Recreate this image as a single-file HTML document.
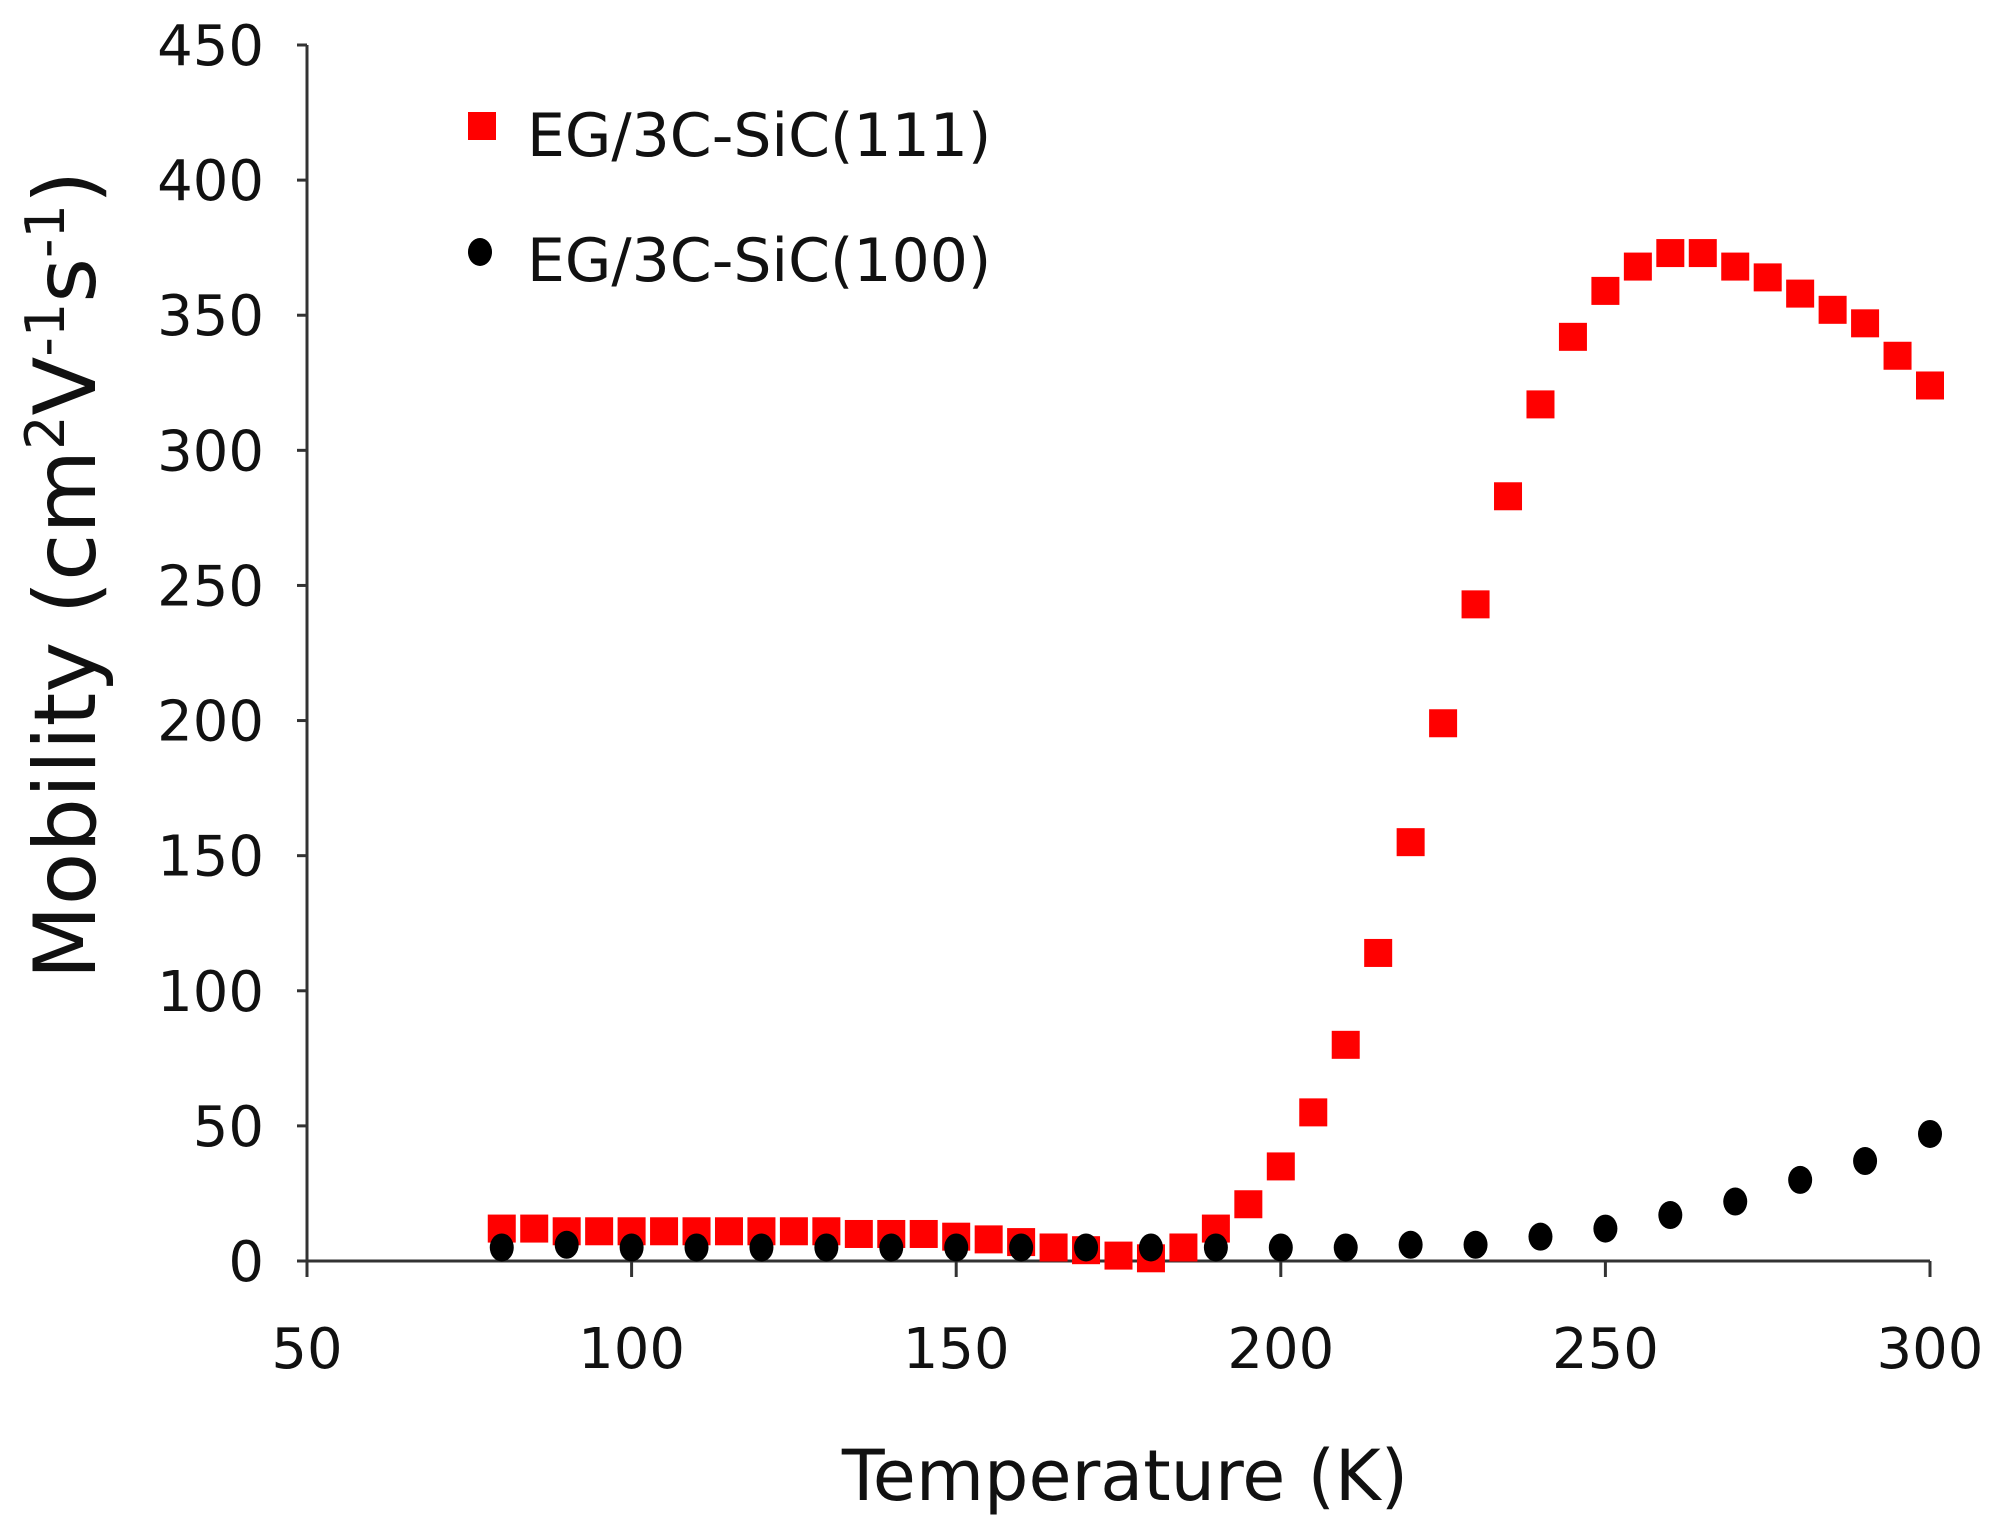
<!DOCTYPE html>
<html><head><meta charset="utf-8"><style>
html,body{margin:0;padding:0;background:#fff;}
svg{display:block;font-family:"DejaVu Sans","Liberation Sans",sans-serif;}
</style></head><body>
<svg id="chart" width="1994" height="1526" viewBox="0 0 1994 1526">
<g id="axes"></g>
<g id="marks"></g>
<text x="1125" y="1500" font-size="70" text-anchor="middle" fill="#111">Temperature (K)</text>
<text transform="translate(95,575) rotate(-90)" font-size="86" text-anchor="middle" fill="#111">Mobility (cm<tspan baseline-shift="super" font-size="54">2</tspan>V<tspan baseline-shift="super" font-size="54">-1</tspan>s<tspan baseline-shift="super" font-size="54">-1</tspan>)</text>
<g>
<rect x="468" y="112" width="28" height="28" fill="#ff0000"/>
<text x="527" y="156" font-size="60" fill="#111">EG/3C-SiC(111)</text>
<ellipse cx="480" cy="252" rx="12" ry="14" fill="#000"/>
<text x="527" y="281" font-size="60" fill="#111">EG/3C-SiC(100)</text>
</g>
</svg>
<script>
const xTicks = [50,100,150,200,250,300];
const yTicks = [0,50,100,150,200,250,300,350,400,450];
const redT = [80,85,90,95,100,105,110,115,120,125,130,135,140,145,150,155,160,165,170,175,180,185,190,195,200,205,210,215,220,225,230,235,240,245,250,255,260,265,270,275,280,285,290,295,300];
const redV = [12,12,11,11,11,11,11,11,11,11,11,10,10,10,9,8,7,5,4,2,1,5,12,21,35,55,80,114,155,199,243,283,317,342,359,368,373,373,368,364,358,352,347,335,324];
const blackT = [80,90,100,110,120,130,140,150,160,170,180,190,200,210,220,230,240,250,260,270,280,290,300];
const blackV = [5,6,5,5,5,5,5,5,5,5,5,5,5,5,6,6,9,12,17,22,30,37,47];

const X0=307, X1=1930, Y0=1261, Y1=45;
function xs(v){return X0+(v-50)/(300-50)*(X1-X0);}
function ys(v){return Y0-(v/450)*(Y0-Y1);}
const NS='http://www.w3.org/2000/svg';
function mk(tag,attrs,parent){const e=document.createElementNS(NS,tag);for(const k in attrs)e.setAttribute(k,attrs[k]);parent.appendChild(e);return e;}
const axes=document.getElementById('axes'), marks=document.getElementById('marks');
let l=mk('line',{x1:X0,y1:Y1,x2:X0,y2:Y0,stroke:'#333','stroke-width':3},axes);


l=mk('line',{x1:X0,y1:Y0,x2:X1,y2:Y0,stroke:'#333','stroke-width':3},axes);


yTicks.forEach(v=>{
  const t=mk('line',{x1:X0-10,y1:ys(v),x2:X0,y2:ys(v),stroke:'#333','stroke-width':3},axes);
  
  
  const tx=mk('text',{x:264,y:ys(v)+20,'font-size':56,'text-anchor':'end',fill:'#111'},axes);
  tx.textContent=v;
  
  
});
xTicks.forEach(v=>{
  const t=mk('line',{x1:xs(v),y1:Y0,x2:xs(v),y2:Y0+16,stroke:'#333','stroke-width':3},axes);
  
  
  const tx=mk('text',{x:xs(v),y:1368,'font-size':56,'text-anchor':'middle',fill:'#111'},axes);
  tx.textContent=v;
  
  
});
redT.forEach((t,i)=>{
  const r=mk('rect',{x:xs(t)-14,y:ys(redV[i])-14,width:28,height:28,fill:'#ff0000'},marks);
  
  
});
blackT.forEach((t,i)=>{
  const c=mk('ellipse',{cx:xs(t),cy:ys(blackV[i]),rx:12,ry:14,fill:'#000'},marks);
  
  
});
</script>
</body></html>
